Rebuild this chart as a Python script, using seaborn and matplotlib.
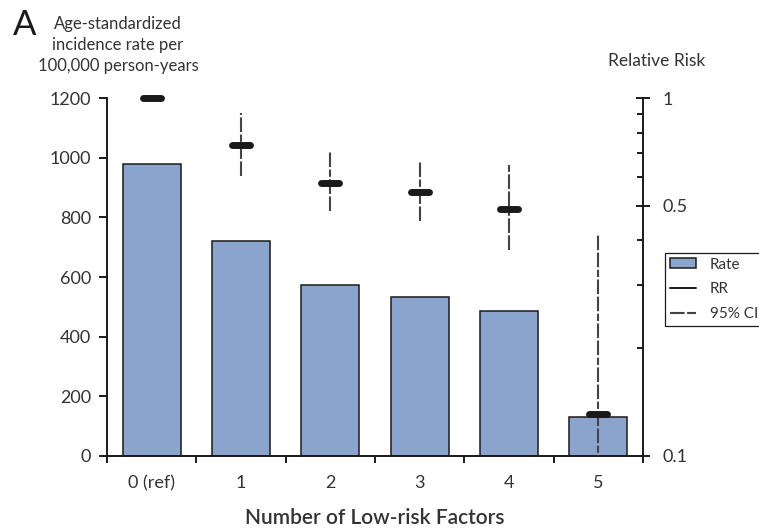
import numpy as np
import pandas as pd
import matplotlib
matplotlib.use("Agg")
import matplotlib.pyplot as plt
import seaborn as sns
from matplotlib.lines import Line2D
from matplotlib.patches import Patch
from matplotlib.markers import MarkerStyle
from matplotlib.ticker import FixedLocator, FixedFormatter, NullFormatter

# Data
categories = ["0 (ref)", "1", "2", "3", "4", "5"]
incidence_rate = [980, 722, 572, 532, 487, 130]
relative_risk = [1.0, 0.74, 0.58, 0.546, 0.49, 0.131]
ci_lower = [1.0, 0.605, 0.483, 0.453, 0.376, 0.05]
ci_upper = [1.0, 0.908, 0.711, 0.667, 0.65, 0.42]

rate_ticks = [0, 200, 400, 600, 800, 1000, 1200]
rr_major_ticks = [0.1, 0.5, 1.0]
rr_major_labels = ["0.1", "0.5", "1"]
rr_minor_ticks = [0.2, 0.3, 0.4, 0.6, 0.7, 0.8, 0.9]
rate_title_lines = ["Age-standardized", "incidence rate per", "100,000 person-years"]

bar_color = "#8BA4CE"
ink = "#1a1a1a"
ci_color = "#444444"
text_color = "#333333"
ci_dash = (0, (7, 1.2, 7, 1.2, 3.5, 1.2))

sns.set_theme(style="ticks")
plt.rcParams["font.family"] = ["Lato", "DejaVu Sans"]

fig = plt.figure(figsize=(7.59, 5.30), dpi=100)
ax = fig.add_axes([107 / 759, 1 - 456 / 530, (643 - 107) / 759, (456 - 98) / 530])

df = pd.DataFrame({"factors": categories, "rate": incidence_rate})
sns.barplot(data=df, x="factors", y="rate", color=bar_color, saturation=1,
            edgecolor=ink, linewidth=1.1, width=0.65, ax=ax, zorder=2)
ax.set_xlim(-0.5, len(categories) - 0.5)
ax.set_ylim(0, 1200)
ax.set_yticks(rate_ticks)
ax.set_xlabel("Number of Low-risk Factors", fontsize=15, fontweight="semibold",
              color=text_color, labelpad=12)
ax.set_ylabel("")
for side in ("top", "right"):
    ax.spines[side].set_visible(False)
for side in ("left", "bottom"):
    ax.spines[side].set_linewidth(1.4)
    ax.spines[side].set_color(ink)

# category labels at centres, tick marks between categories
ax.tick_params(axis="x", which="major", length=0, pad=14, labelsize=13,
               labelcolor=text_color)
ax.xaxis.set_minor_locator(FixedLocator(np.arange(-0.5, len(categories), 1.0)))
ax.xaxis.set_minor_formatter(NullFormatter())
ax.tick_params(axis="x", which="minor", length=5, width=1.4, color=ink, direction="out")
ax.tick_params(axis="y", which="major", length=5.5, width=1.4, color=ink, direction="out",
               pad=6, labelsize=13, labelcolor=text_color)

# Relative risk on a log axis
ax2 = ax.twinx()
ax2.set_yscale("log")
ax2.set_ylim(0.1, 1.0)
x = np.arange(len(categories))
ax2.vlines(x, ci_lower, ci_upper, colors=ci_color, linewidth=1.5,
           linestyles=[ci_dash], zorder=3)
rr_marker = MarkerStyle("_", capstyle="round")
ax2.plot(x, relative_risk, ls="none", marker=rr_marker, ms=13.5, mew=5,
         color=ink, clip_on=False, zorder=4)

ax2.yaxis.set_major_locator(FixedLocator(rr_major_ticks))
ax2.yaxis.set_major_formatter(FixedFormatter(rr_major_labels))
ax2.yaxis.set_minor_locator(FixedLocator(rr_minor_ticks))
ax2.yaxis.set_minor_formatter(NullFormatter())
ax2.tick_params(axis="y", which="major", direction="inout", length=10, width=1.4,
                color=ink, pad=9, labelsize=13, labelcolor=text_color)
ax2.tick_params(axis="y", which="minor", direction="in", length=4.5, width=1.4, color=ink)
for side in ("top", "left", "bottom"):
    ax2.spines[side].set_visible(False)
ax2.spines["right"].set_linewidth(1.4)
ax2.spines["right"].set_color(ink)
ax2.set_ylabel("")

# Titles
fig.text(13 / 759, 1 - 35 / 530, "A", fontsize=25, color=ink, ha="left", va="baseline")
for i, line in enumerate(rate_title_lines):
    fig.text(118 / 759, 1 - (29 + 21 * i) / 530, line, fontsize=12, color=text_color,
             ha="center", va="baseline")
fig.text(657 / 759, 1 - 66 / 530, "Relative Risk", fontsize=12.5, color=text_color,
         ha="center", va="baseline")

# Legend
handles = [
    Patch(facecolor=bar_color, edgecolor=ink, linewidth=1.1),
    Line2D([], [], color=ink, linewidth=1.4),
    Line2D([], [], color=ci_color, linewidth=1.5, linestyle=ci_dash),
]
leg = fig.legend(handles, ["Rate", "RR", "95% CI"], loc="upper left",
                 bbox_to_anchor=(665 / 759, 1 - 253 / 530), fontsize=11,
                 frameon=True, fancybox=False, edgecolor=ink, framealpha=1,
                 handlelength=1.75, handleheight=0.6, handletextpad=0.9,
                 labelspacing=0.7, borderpad=0.3, borderaxespad=0)
leg.get_frame().set_linewidth(0.9)
for t in leg.get_texts():
    t.set_color(text_color)

fig.savefig("out.png", dpi=100)
